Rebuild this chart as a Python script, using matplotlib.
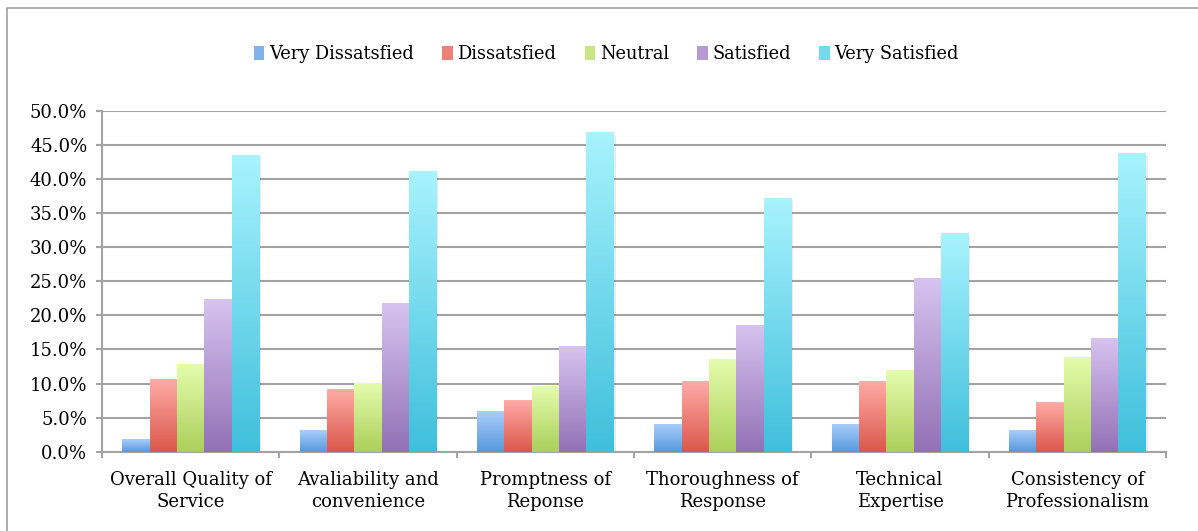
import numpy as np
import matplotlib
matplotlib.use('Agg')
import matplotlib.pyplot as plt
from matplotlib.colors import LinearSegmentedColormap
from matplotlib.patches import Rectangle, Patch
from matplotlib.lines import Line2D

categories = ['Overall Quality of\nService', 'Avaliability and\nconvenience',
              'Promptness of\nReponse', 'Thoroughness of\nResponse',
              'Technical\nExpertise', 'Consistency of\nProfessionalism']
series = ['Very Dissatsfied', 'Dissatsfied', 'Neutral', 'Satisfied', 'Very Satisfied']

very_dissatisfied = [1.8, 3.1, 5.9, 4.0, 4.0, 3.1]
dissatisfied = [10.6, 9.1, 7.6, 10.4, 10.4, 7.3]
neutral = [12.8, 10.0, 9.6, 13.6, 11.9, 13.8]
satisfied = [22.4, 21.8, 15.4, 18.6, 25.5, 16.6]
very_satisfied = [43.5, 41.1, 46.9, 37.2, 32.0, 43.8]

values = [very_dissatisfied, dissatisfied, neutral, satisfied, very_satisfied]

# (top colour, bottom colour) for the gradient fills
grads = [('#a9cdfb', '#5799dc'),
         ('#ffaba6', '#db574b'),
         ('#e4fdad', '#abcf5a'),
         ('#d7c3f0', '#9271b5'),
         ('#a8f3fe', '#3fbfdc')]

plt.rcParams['font.family'] = ['DejaVu Serif']

fig = plt.figure(figsize=(11.98, 5.31), dpi=100)
ax = fig.add_axes([0.0851, 0.1493, 0.9733 - 0.0851, 0.7915 - 0.1493])

# outer chart border (only top and left edges are inside the image)
bx0, by0 = 6.5 / 1198, 1 - 7.5 / 531
fig.lines.append(Line2D([bx0, bx0, 1.0], [0.0, by0, by0], transform=fig.transFigure,
                        color='#a0a0a0', linewidth=1.2))

x = np.arange(len(categories))
w = 0.154
grad = np.linspace(1, 0, 256).reshape(-1, 1)

for k, (name, vals) in enumerate(zip(series, values)):
    top, bottom = grads[k]
    cmap = LinearSegmentedColormap.from_list(name, [bottom, top])
    bars = ax.bar(x + (k - 2) * w, vals, w, color='none', edgecolor='none', zorder=3)
    for b in bars:
        bx, by = b.get_xy()
        bw, bh = b.get_width(), b.get_height()
        # faint shadow
        ax.add_patch(Rectangle((bx + 0.012, by), bw, bh - 0.4, facecolor='#000000',
                               alpha=0.08, edgecolor='none', zorder=2.5))
        ax.imshow(grad, extent=[bx, bx + bw, by, by + bh], aspect='auto',
                  cmap=cmap, vmin=0, vmax=1, zorder=3, interpolation='bilinear')

ax.set_xlim(-0.5, len(categories) - 0.5)
ax.set_ylim(0, 50)
ax.set_aspect('auto')

ax.set_yticks(np.arange(0, 50.1, 5))
ax.set_yticklabels(['%.1f%%' % v for v in np.arange(0, 50.1, 5)], fontsize=13)
ax.yaxis.grid(True, color='#a3a3a3', linewidth=1.5, zorder=0)
ax.set_axisbelow(True)

ax.set_xticks(np.arange(-0.5, len(categories), 1))
ax.set_xticklabels([])
ax.set_xticks(x, minor=True)
ax.set_xticklabels(categories, minor=True, fontsize=13, linespacing=1.25)
ax.tick_params(axis='x', which='minor', length=0, pad=14)
ax.tick_params(axis='x', which='major', length=4.5, width=1.5, color='#a3a3a3', direction='out')
ax.tick_params(axis='y', length=4.5, width=1.5, color='#a3a3a3', pad=6)

for s in ['top', 'right']:
    ax.spines[s].set_visible(False)
for s in ['left', 'bottom']:
    ax.spines[s].set_color('#a3a3a3')
    ax.spines[s].set_linewidth(1.5)

handles = [Patch(facecolor=LinearSegmentedColormap.from_list('m', [g[1], g[0]])(0.5),
                 edgecolor='none') for g in grads]
fig.legend(handles, series, loc='center', bbox_to_anchor=(0.506, 0.898), ncol=5,
           frameon=False, fontsize=12.8, handlelength=0.6, handleheight=0.8,
           handletextpad=0.25, columnspacing=1.6)

fig.savefig('out.png', dpi=100)
